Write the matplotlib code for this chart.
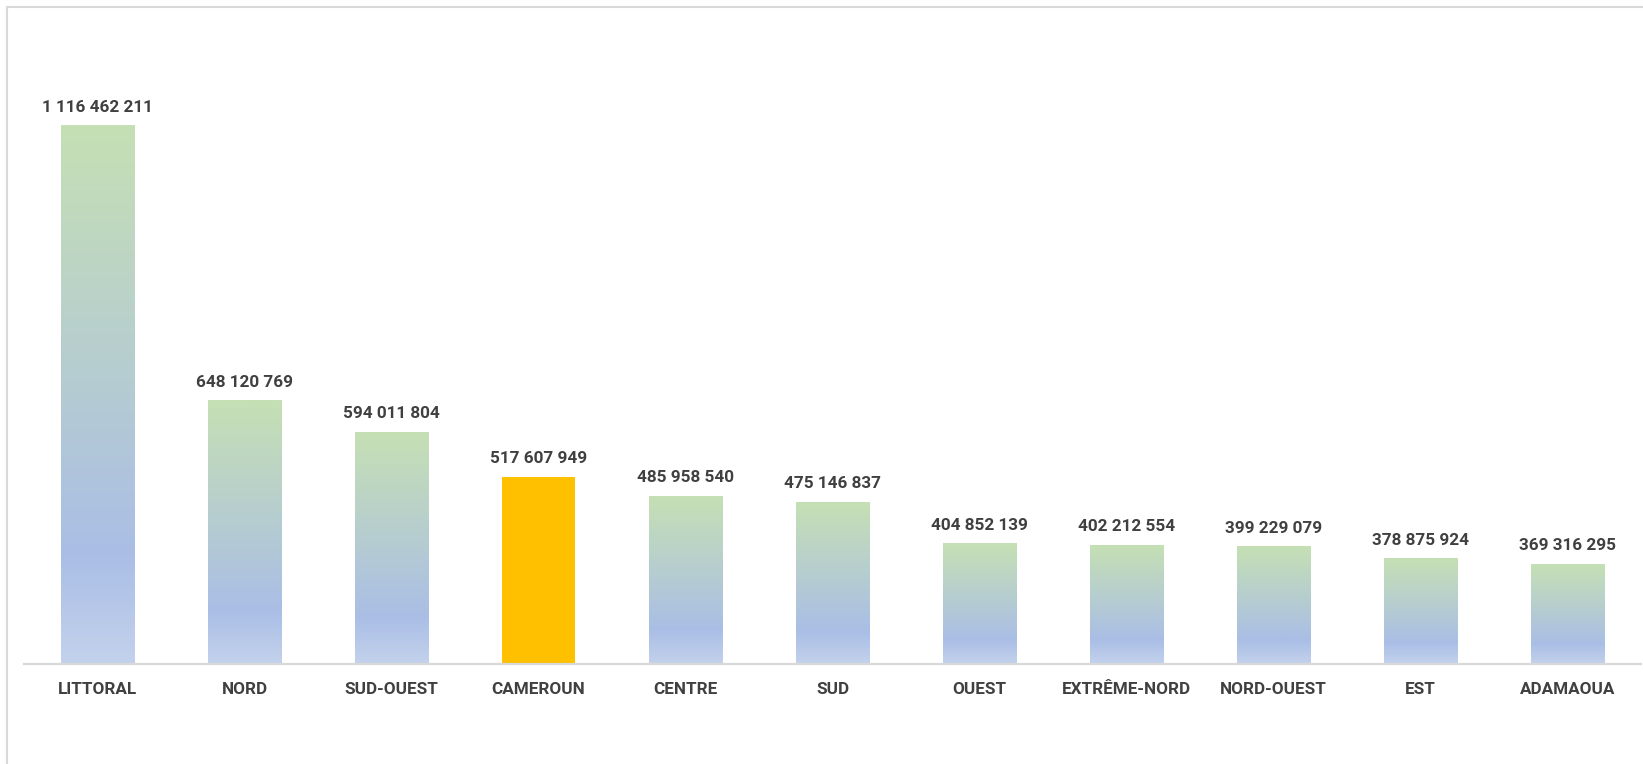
import matplotlib
matplotlib.use("Agg")
import matplotlib.pyplot as plt
import numpy as np
from matplotlib.colors import LinearSegmentedColormap
from matplotlib.patches import Rectangle

regions = ["LITTORAL", "NORD", "SUD-OUEST", "CAMEROUN", "CENTRE", "SUD",
           "OUEST", "EXTRÊME-NORD", "NORD-OUEST", "EST", "ADAMAOUA"]
values = [1116462211, 648120769, 594011804, 517607949, 485958540, 475146837,
          404852139, 402212554, 399229079, 378875924, 369316295]
highlight = "CAMEROUN"

plt.rcParams["font.family"] = ["Roboto", "DejaVu Sans"]

W, H = 1643, 764
fig = plt.figure(figsize=(W / 100, H / 100), dpi=100)
fig.patch.set_facecolor("white")

# cadre gris clair (gauche + haut)
fig.patches.append(Rectangle((7 / W, -0.1), 1.2, (H - 7) / H + 0.1,
                             transform=fig.transFigure, fill=False,
                             edgecolor="#d9d9d9", linewidth=1.5))

ax = fig.add_axes([24 / W, (H - 664) / H, (1641 - 24) / W, (664 - 30) / H])
ymin = 200e6
ymax = ymin + 634 / 0.5874 * 1e6

x = np.arange(len(regions))
bars = ax.bar(x, values, width=0.5, color="none", edgecolor="none")

grad = LinearSegmentedColormap.from_list(
    "vb", [(0.0, "#c3d2ec"), (0.2, "#aabee6"), (1.0, "#c5e0b4")])
g = np.linspace(0, 1, 256).reshape(-1, 1)

for b, name in zip(bars, regions):
    x0 = b.get_x()
    x1 = x0 + b.get_width()
    top = b.get_height()
    if name == highlight:
        ax.add_patch(Rectangle((x0, ymin), b.get_width(), top - ymin,
                               facecolor="#ffc000", edgecolor="none", zorder=2))
    else:
        ax.imshow(g, cmap=grad, origin="lower", aspect="auto",
                  extent=(x0, x1, ymin, top), zorder=2)

ax.set_xlim(-0.5, len(regions) - 0.5)
ax.set_ylim(ymin, ymax)

labels = [f"{v:,}".replace(",", " ") for v in values]
ax.bar_label(bars, labels=labels, padding=8, fontsize=12.3,
             fontweight="bold", color="#404040")

ax.set_xticks(x)
ax.set_xticklabels(regions, fontsize=12.3, fontweight="bold", color="#404040")
ax.tick_params(axis="x", length=0, pad=13)
ax.set_yticks([])
for s in ["top", "left", "right"]:
    ax.spines[s].set_visible(False)
ax.spines["bottom"].set_color("#d9d9d9")
ax.spines["bottom"].set_linewidth(1.6)
ax.spines["bottom"].set_zorder(3)
ax.set_facecolor("none")

fig.savefig("out.png", dpi=100)
